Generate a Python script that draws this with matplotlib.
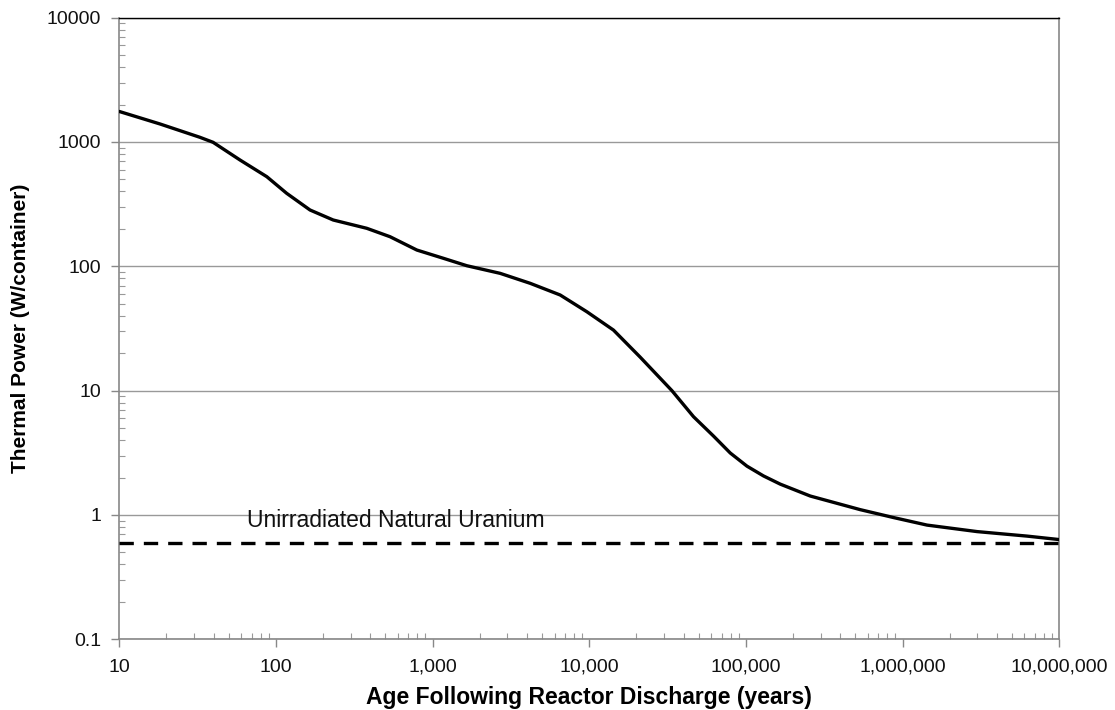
import matplotlib
matplotlib.use("Agg")
import matplotlib.pyplot as plt
from matplotlib.ticker import LogLocator, FuncFormatter, NullFormatter

plt.rcParams['font.family'] = ['Liberation Sans', 'DejaVu Sans']

# Data
age_years = [10, 18.2, 32.7, 39.7, 59, 87.4, 117, 165, 232, 380, 535, 793, 1172,
             1654, 2698, 4195, 6520, 9654, 14270, 21130, 33690, 46290,
             62110, 79430, 101500, 129500, 165600, 257400, 537000, 876000,
             1432000, 2985000, 6230000, 10000000]
thermal_power = [1760, 1396, 1091, 994, 716, 526, 386.7, 283.8, 235.8, 202.2, 173, 135.2, 116,
                 101.1, 87.8, 73.0, 58.8, 43.1, 30.7, 18.6, 10, 6.17,
                 4.31, 3.15, 2.47, 2.06, 1.77, 1.42, 1.103, 0.953,
                 0.829, 0.735, 0.676, 0.634]
uranium_x = [10, 10000000]
uranium_y = [0.6, 0.6]
uranium_label = "Unirradiated Natural Uranium"

x_ticks = [10, 100, 1000, 10000, 100000, 1000000, 10000000]
y_ticks = [0.1, 1, 10, 100, 1000, 10000]
y_ticklabels = ["0.1", "1", "10", "100", "1000", "10000"]

fig = plt.figure(figsize=(11.15, 7.10), dpi=100)
ax = fig.add_axes([0.107, 0.0996, 0.843, 0.8755])

ax.plot(age_years, thermal_power, color='black', lw=2.4, solid_capstyle='round',
        solid_joinstyle='round', zorder=3)
ax.plot(uranium_x, uranium_y, color='black', lw=2.4, dashes=(4.3, 3.0), zorder=3)
ax.text(65, 0.80, uranium_label, fontsize=16.5, color='#111111', ha='left', va='baseline')

ax.set_xscale('log')
ax.set_yscale('log')
ax.set_xlim(10, 1e7)
ax.set_ylim(0.1, 10000)

ax.set_xticks(x_ticks)
ax.xaxis.set_major_formatter(FuncFormatter(lambda v, p: f"{int(round(v)):,}"))
ax.set_yticks(y_ticks)
ax.set_yticklabels(y_ticklabels)
ax.xaxis.set_minor_locator(LogLocator(base=10, subs=range(2, 10), numticks=20))
ax.yaxis.set_minor_locator(LogLocator(base=10, subs=range(2, 10), numticks=20))
ax.xaxis.set_minor_formatter(NullFormatter())
ax.yaxis.set_minor_formatter(NullFormatter())

ax.tick_params(which='major', direction='out', length=6, width=1, color='#888888',
               labelsize=14, labelcolor='#111111')
ax.tick_params(axis='x', which='major', pad=8)
ax.tick_params(axis='y', which='major', pad=7)
ax.tick_params(which='minor', direction='in', length=4, width=0.8, color='#999999')

ax.yaxis.grid(True, which='major', color='#999999', lw=1)
ax.set_axisbelow(True)

for side in ['left', 'right', 'bottom']:
    ax.spines[side].set_color('#888888')
    ax.spines[side].set_linewidth(1.2)
ax.spines['top'].set_color('black')
ax.spines['top'].set_linewidth(1.0)

ax.set_xlabel("Age Following Reactor Discharge (years)", fontsize=16.5, fontweight='bold')
ax.xaxis.set_label_coords(0.5, -0.075)
ax.xaxis.label.set_va('top')
ax.set_ylabel("Thermal Power (W/container)", fontsize=15, fontweight='bold', labelpad=12)

fig.savefig("out.png", dpi=100)
